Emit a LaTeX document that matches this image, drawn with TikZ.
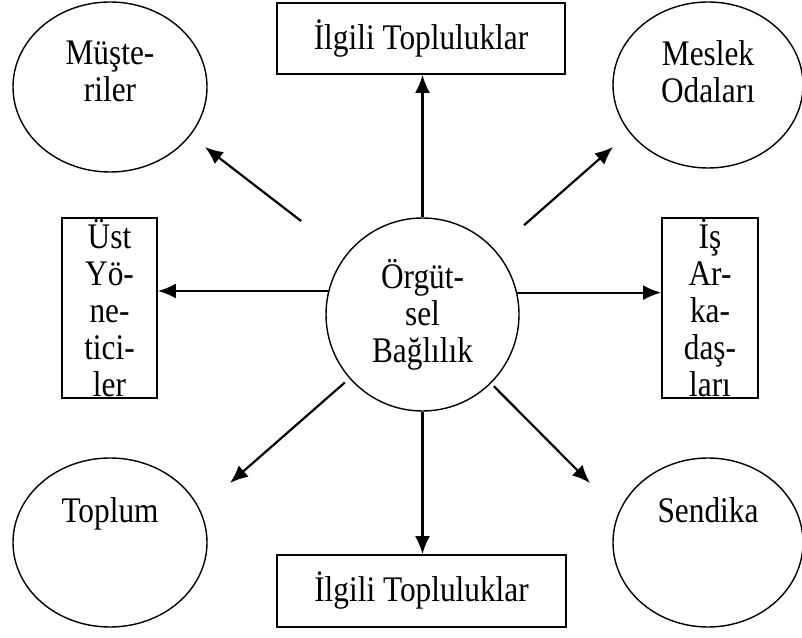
\documentclass[tikz,border=0pt]{standalone}
\usepackage{fontspec}
\setmainfont{Liberation Serif}[FakeStretch=0.87]
\usetikzlibrary{arrows.meta,shapes.geometric}

\tikzset{
  rectbox/.style={draw,line width=1.8pt,align=center,inner sep=0pt},
  oval/.style={draw,ellipse,line width=1.4pt,inner sep=0pt},
  ovaltext/.style={align=center},
  link/.style={line width=2.2pt,-{Latex[length=18pt,width=15pt]}}
}

\begin{document}
\begin{tikzpicture}[x=1pt,y=1pt,font=\fontsize{36}{37}\selectfont]
  \useasboundingbox (0,0) rectangle (802,637);

  % centre
  \node[draw,circle,line width=1.4pt,minimum size=193pt,align=center,inner sep=0pt]
    (org) at (422.5,322.5) {Örgüt-\\sel\\Bağlılık};

  % boxes
  \node[rectbox,minimum width=288pt,minimum height=71pt] (tb) at (421,598.5) {İlgili Topluluklar};
  \node[rectbox,minimum width=289pt,minimum height=72pt] (bb) at (421.5,46) {İlgili Topluluklar};
  \node[rectbox,minimum width=95pt,minimum height=180pt] (lb) at (109.5,329) {Üst\\Yö-\\ne-\\tici-\\ler};
  \node[rectbox,minimum width=96pt,minimum height=180pt] (rb) at (710,329) {İş\\Ar-\\ka-\\daş-\\ları};

  % ellipses
  \node[oval,minimum width=194pt,minimum height=170pt,
        label={[ovaltext,yshift=16pt]center:Müşte-\\riler}] (mus) at (110,550) {};
  \node[oval,minimum width=190pt,minimum height=166pt,
        label={[ovaltext,yshift=13pt]center:Meslek\\Odaları}] (mes) at (708,552) {};
  \node[oval,minimum width=194pt,minimum height=169pt,
        label={[ovaltext,yshift=28.5pt]center:Toplum}] (top) at (110,94.5) {};
  \node[oval,minimum width=190pt,minimum height=169pt,
        label={[ovaltext,yshift=32pt]center:Sendika}] (sen) at (708,94.5) {};

  % arrow tips near the ellipses
  \coordinate (musTip) at (205,490);
  \coordinate (mesTip) at (613,490);
  \coordinate (topTip) at (230,154);
  \coordinate (senTip) at (590,154);

  % arrows
  \draw[link] (org.north) -- (org.north |- tb.south);
  \draw[link] (org.south) -- (org.south |- bb.north);
  \draw[link] (org.166.5) -- (lb.east |- org.166.5);
  \draw[link] (org.13.5) -- (rb.west |- org.13.5);
  \draw[link,shorten <=56pt] (org) -- (musTip);
  \draw[link,shorten <=38pt] (org) -- (mesTip);
  \draw[link,shorten <=6pt] (org) -- (topTip);
  \draw[link,shorten <=4pt] (org) -- (senTip);
\end{tikzpicture}
\end{document}
